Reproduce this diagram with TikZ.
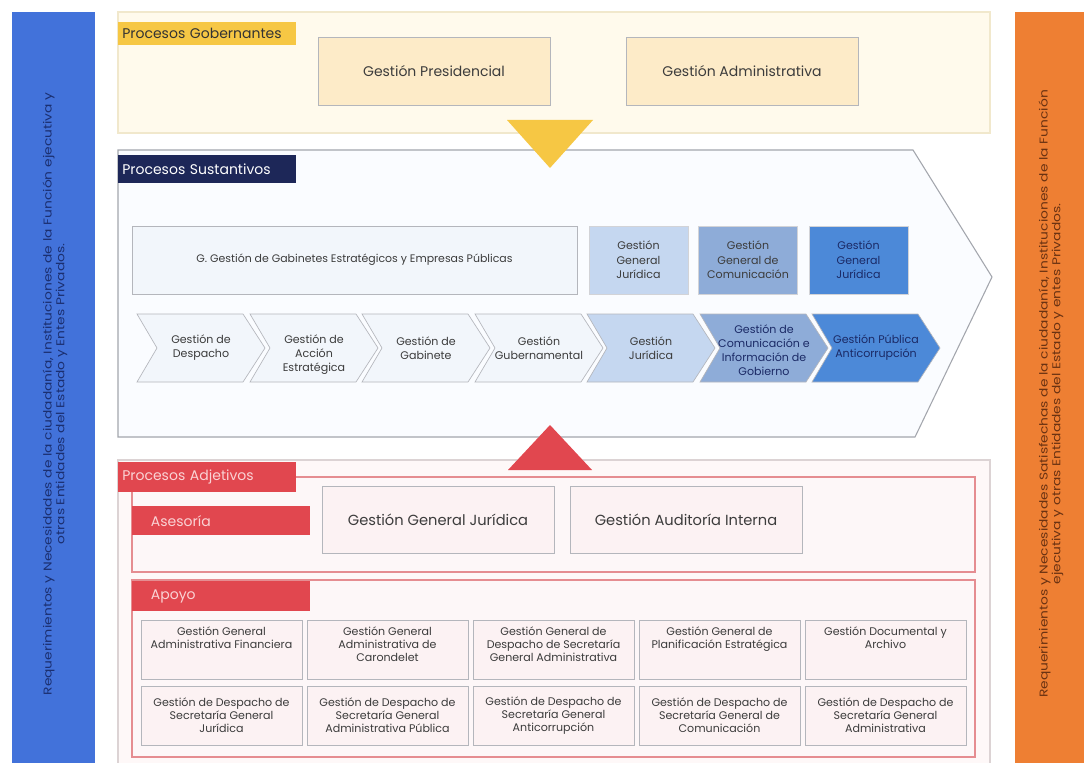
\documentclass[tikz,border=0pt]{standalone}
\usepackage{fontspec}
\setmainfont{Poppins}
\newfontfamily\sidefont[FakeStretch=1.22]{Poppins}
\usepackage{xcolor}
\usetikzlibrary{positioning}

\definecolor{barblue}{HTML}{4272DA}
\definecolor{barorange}{HTML}{EE7F33}
\definecolor{bluetxt}{HTML}{1B2F70}
\definecolor{orangetxt}{HTML}{6A3212}
\definecolor{gobpanel}{HTML}{FFFAEC}
\definecolor{gobline}{HTML}{F1E8CC}
\definecolor{gobtag}{HTML}{F6C744}
\definecolor{gobbox}{HTML}{FDEBC8}
\definecolor{boxline}{HTML}{B4B6BC}
\definecolor{sustag}{HTML}{1D2758}
\definecolor{suspanel}{HTML}{FAFCFF}
\definecolor{susline}{HTML}{A3A6AD}
\definecolor{lightbox}{HTML}{F2F6FB}
\definecolor{blueA}{HTML}{C5D7F0}
\definecolor{blueB}{HTML}{8EACD8}
\definecolor{blueC}{HTML}{4C89D8}
\definecolor{adjred}{HTML}{E1474F}
\definecolor{adjpanel}{HTML}{FEF8F8}
\definecolor{adjline}{HTML}{DCD3D4}
\definecolor{adjframe}{HTML}{E58D91}
\definecolor{adjbox}{HTML}{FCF2F3}
\definecolor{tagpink}{HTML}{FAD3D5}
\definecolor{txtgray}{HTML}{3C3C3C}
\definecolor{navytxt}{HTML}{1B2A66}

\begin{document}
\begin{tikzpicture}[
    sidetxt/.style={rotate=90, align=center, font=\sidefont\fontsize{8.5}{9.5}\selectfont},
    tag/.style={anchor=north west, align=left, inner xsep=3pt, text width=127.5pt, inner ysep=0pt},
    bigbox/.style={draw=boxline, line width=0.6pt, minimum width=174pt, minimum height=50.5pt,
        font=\fontsize{10.5}{12}\selectfont, text=txtgray},
    bluebox/.style={draw=boxline!60, line width=0.4pt, minimum width=74.25pt, minimum height=51pt,
        align=center, font=\fontsize{8.3}{11}\selectfont, text=txtgray},
    chev/.style={draw=boxline, line width=0.5pt},
    chevtxt/.style={align=center, font=\fontsize{8.3}{10.5}\selectfont, text=txtgray},
    cell/.style={draw=boxline, line width=0.5pt, fill=adjbox, minimum width=120.75pt,
        minimum height=44.25pt, align=center, font=\fontsize{8.3}{9.8}\selectfont, text=txtgray},
    celltxt/.style={anchor=north, inner sep=5pt, align=center, font=\fontsize{8.3}{9.8}\selectfont, text=txtgray},
  ]
	\begin{scope}[x=0.75pt,y=-0.75pt]
		\fill[white] (0,0) rectangle (1084,763);
		\useasboundingbox (0,0) rectangle (1084,763);

		% side bars
		\fill[barblue] (12,12) rectangle (95,770);
		\fill[barorange] (1015,12) rectangle (1090,770);
		\node[sidetxt, text=bluetxt] (reqin) at (55,394)
			{Requerimientos y Necesidades de la ciudadanía, Instituciones de la Función ejecutiva y\\
			 otras Entidades del Estado y Entes Privados.};
		\node[sidetxt, text=orangetxt] (reqout) at (1051,394)
			{Requerimientos y Necesidades Satisfechas de la ciudadanía, Instituciones de la Función\\
			 ejecutiva y otras Entidades del Estado y entes Privados.};

		% procesos gobernantes
		\draw[gobline, fill=gobpanel, line width=0.8pt] (118,12) rectangle (990,133);
		\node[tag, fill=gobtag, minimum height=17.25pt, font=\fontsize{10.5}{12}\selectfont, text=black!80]
			(gobtag) at (118,22) {Procesos Gobernantes};
		\node[bigbox, fill=gobbox] (presidencial) at (434,71.5) {Gestión Presidencial};
		\node[bigbox, fill=gobbox] (administrativa) at (742,71.5) {Gestión Administrativa};

		% procesos sustantivos
		\draw[susline, fill=suspanel, line width=0.8pt]
			(118,150) -- (913,150) -- (992,277) -- (915,437) -- (118,437) -- cycle;
		\fill[gobtag] (507,120) -- (593,120) -- (550,168) -- cycle;
		\node[tag, fill=sustag, minimum height=21pt, font=\fontsize{10.5}{12}\selectfont, text=white]
			(sustag) at (118,155) {Procesos Sustantivos};

		\node[draw=boxline, line width=0.6pt, fill=lightbox, minimum width=333.75pt, minimum height=51pt,
			font=\fontsize{8.2}{10}\selectfont, text=txtgray]
			(gabinetes) at (354.5,260) {G. Gestión de Gabinetes Estratégicos y Empresas Públicas};
		\node[bluebox, fill=blueA] (juridicaA) at (638.5,260) {Gestión\\General\\Jurídica};
		\node[bluebox, fill=blueB] (comunicacion) at (748,260) {Gestión\\General de\\Comunicación};
		\node[bluebox, fill=blueC, text=navytxt] (juridicaB) at (858.5,260) {Gestión\\General\\Jurídica};

		\draw[chev, fill=lightbox] (137,314) -- (243,314) -- (265,348) -- (243,382) -- (137,382) -- (157,348) -- cycle;
		\node[chevtxt] (despacho) at (201,348) {Gestión de\\Despacho};
		\draw[chev, fill=lightbox] (250,314) -- (356,314) -- (378,348) -- (356,382) -- (250,382) -- (270,348) -- cycle;
		\node[chevtxt] (accion) at (314,355) {Gestión de\\Acción\\Estratégica};
		\draw[chev, fill=lightbox] (362,314) -- (468,314) -- (490,348) -- (468,382) -- (362,382) -- (382,348) -- cycle;
		\node[chevtxt] (gabinete) at (426,348) {Gestión de\\Gabinete};
		\draw[chev, fill=lightbox] (475,314) -- (581,314) -- (603,348) -- (581,382) -- (475,382) -- (495,348) -- cycle;
		\node[chevtxt] (gubernamental) at (539,348) {Gestión\\Gubernamental};
		\draw[chev, fill=blueA] (587,314) -- (693,314) -- (715,348) -- (693,382) -- (587,382) -- (607,348) -- cycle;
		\node[chevtxt] (juridica) at (651,348) {Gestión\\Jurídica};
		\draw[chev, fill=blueB] (700,314) -- (806,314) -- (828,348) -- (806,382) -- (700,382) -- (720,348) -- cycle;
		\node[chevtxt, text=navytxt] (informacion) at (764,350) {Gestión de\\Comunicación e\\Información de\\Gobierno};
		\draw[chev, fill=blueC] (812,314) -- (918,314) -- (940,348) -- (918,382) -- (812,382) -- (832,348) -- cycle;
		\node[chevtxt, text=navytxt] (anticorrupcion) at (876,348) {Gestión Pública\\Anticorrupción};

		% procesos adjetivos
		\draw[adjline, fill=adjpanel, line width=0.8pt] (118,460) rectangle (990,775);
		\fill[adjred] (508,470) -- (592,470) -- (550,425) -- cycle;
		\draw[adjframe, fill=adjbox!60, line width=0.8pt] (132,477) rectangle (975,572);
		\draw[adjframe, fill=adjbox!60, line width=0.8pt] (132,580) rectangle (975,757);
		\node[tag, fill=adjred, minimum height=22.5pt, font=\fontsize{10.5}{12}\selectfont, text=tagpink]
			(adjtag) at (118,462) {Procesos Adjetivos};
		\node[tag, fill=adjred, minimum height=21.75pt, inner xsep=14pt, text width=105.5pt,
			font=\fontsize{10.5}{12}\selectfont, text=tagpink] (asesoria) at (132,506) {Asesoría};
		\node[tag, fill=adjred, minimum height=22.5pt, inner xsep=14pt, text width=105.5pt,
			font=\fontsize{10.5}{12}\selectfont, text=tagpink] (apoyo) at (132,581) {Apoyo};

		\node[bigbox, fill=adjbox, font=\fontsize{11}{13}\selectfont] (gjuridica) at (438,520) {Gestión General Jurídica};
		\node[bigbox, fill=adjbox, font=\fontsize{11}{13}\selectfont] (auditoria) at (686,520) {Gestión Auditoría Interna};

		% apoyo, fila 1
		\node[cell] (ap1) at (221.5,649.5) {};
		\node[celltxt] (ap1t) at (ap1.north) {Gestión General\\Administrativa Financiera};
		\node[cell] (ap2) at (387.5,649.5) {};
		\node[celltxt] (ap2t) at (ap2.north) {Gestión General\\Administrativa de\\Carondelet};
		\node[cell] (ap3) at (553.5,649.5) {};
		\node[celltxt] (ap3t) at (ap3.north) {Gestión General de\\Despacho de Secretaría\\General Administrativa};
		\node[cell] (ap4) at (719.5,649.5) {};
		\node[celltxt] (ap4t) at (ap4.north) {Gestión General de\\Planificación Estratégica};
		\node[cell] (ap5) at (885.5,649.5) {};
		\node[celltxt] (ap5t) at (ap5.north) {Gestión Documental y\\Archivo};

		% apoyo, fila 2
		\node[cell] (ap6) at (221.5,715.5) {Gestión de Despacho de\\Secretaría General\\Jurídica};
		\node[cell] (ap7) at (387.5,715.5) {Gestión de Despacho de\\Secretaría General\\Administrativa Pública};
		\node[cell] (ap8) at (553.5,715.5) {Gestión de Despacho de\\Secretaría General\\Anticorrupción};
		\node[cell] (ap9) at (719.5,715.5) {Gestión de Despacho de\\Secretaría General de\\Comunicación};
		\node[cell] (ap10) at (885.5,715.5) {Gestión de Despacho de\\Secretaría General\\Administrativa};
	\end{scope}
\end{tikzpicture}
\end{document}
